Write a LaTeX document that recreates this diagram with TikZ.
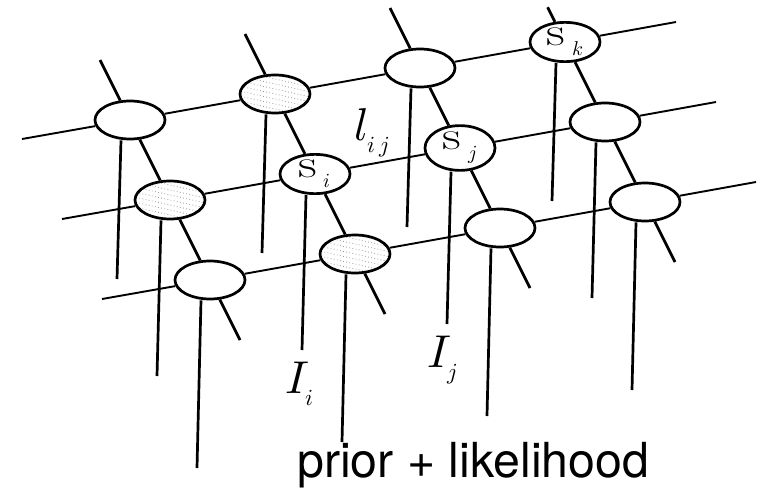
\documentclass[tikz,border=0pt]{standalone}
\usepackage{fontspec}
\usepackage{unicode-math}
\setmathfont{Latin Modern Math}
\setsansfont{TeX Gyre Heros}
\usetikzlibrary{shapes.geometric,calc}

\newcommand{\sitelbl}[1]{\scalebox{1.3}[1]{s}\,$_{\scriptscriptstyle #1}$}

\begin{document}
\begin{tikzpicture}[x=1pt, y=-1pt,
    site/.style={draw, ellipse, fill=white, line width=2.7pt,
                 minimum width=70pt, minimum height=38pt, inner sep=0pt,
                 font=\fontsize{40}{42}\selectfont},
    hatched/.style={site, path picture={
        \foreach \m in {-6,...,6}
            \draw[gray!80, line width=0.8pt, dash pattern=on 0.8pt off 2.4pt]
                ([shift={(-40pt,\m*5pt+9pt)}]path picture bounding box.center)
                -- ++(80pt,-18pt);}},
    bond/.style={line width=1.9pt},
    link/.style={line width=2.7pt},
    obs/.style={line width=2.7pt},
    mathlabel/.style={font=\fontsize{46}{50}\selectfont, inner sep=0pt},
    caption/.style={font=\sffamily\fontsize{48.3}{52}\selectfont, inner sep=0pt},
]
\useasboundingbox (0,0) rectangle (763,496);

% Lattice sites
\foreach \i/\j/\kind/\txt in {
    0/0/site/, 0/1/hatched/, 0/2/site/, 0/3/site/k,
    1/0/hatched/, 1/1/site/i, 1/2/site/j, 1/3/site/,
    2/0/site/, 2/1/hatched/, 2/2/site/, 2/3/site/}
{
    \node[\kind] (n\i\j) at (130+145*\j+40*\i, 120-26*\j+80*\i)
        {\ifx\txt\empty\else\sitelbl{\txt}\fi};
}

% Row bonds
\foreach \i in {0,1,2} {
    \coordinate (rs\i) at ($(n\i0)+(-108,19)$);
    \coordinate (re\i) at ($(n\i3)+(111,-20)$);
    \draw[bond] (rs\i) -- (n\i0) -- (n\i1) -- (n\i2) -- (n\i3) -- (re\i);
}

% Column bonds
\foreach \j/\ext in {0/1, 1/1, 2/1, 3/0.58} {
    \coordinate (cs\j) at ($(n0\j)+\ext*(-30,-60)$);
    \coordinate (ce\j) at ($(n2\j)+(30,60)$);
    \draw[link] (cs\j) -- (n0\j) -- (n1\j) -- (n2\j) -- (ce\j);
}

% Observations
\foreach \i/\drop in {0/159, 1/176, 2/188}
    \foreach \j in {0,...,3} {
        \coordinate (o\i\j) at ($(n\i\j)+(-13,\drop)$);
        \draw[obs] ([xshift=-9pt]n\i\j.south) -- (o\i\j);
    }

% Labels
\node[mathlabel] (lij) at (372,133) {$l_{\scriptscriptstyle i\,j}$};
\node[mathlabel] (Ii) at (300,384) {$I_{\scriptscriptstyle i}$};
\node[mathlabel] (Ij) at (443,360) {$I_{\scriptscriptstyle j}$};
\node[caption, anchor=base west] (cap) at (297,477) {prior + likelihood};

\end{tikzpicture}
\end{document}
